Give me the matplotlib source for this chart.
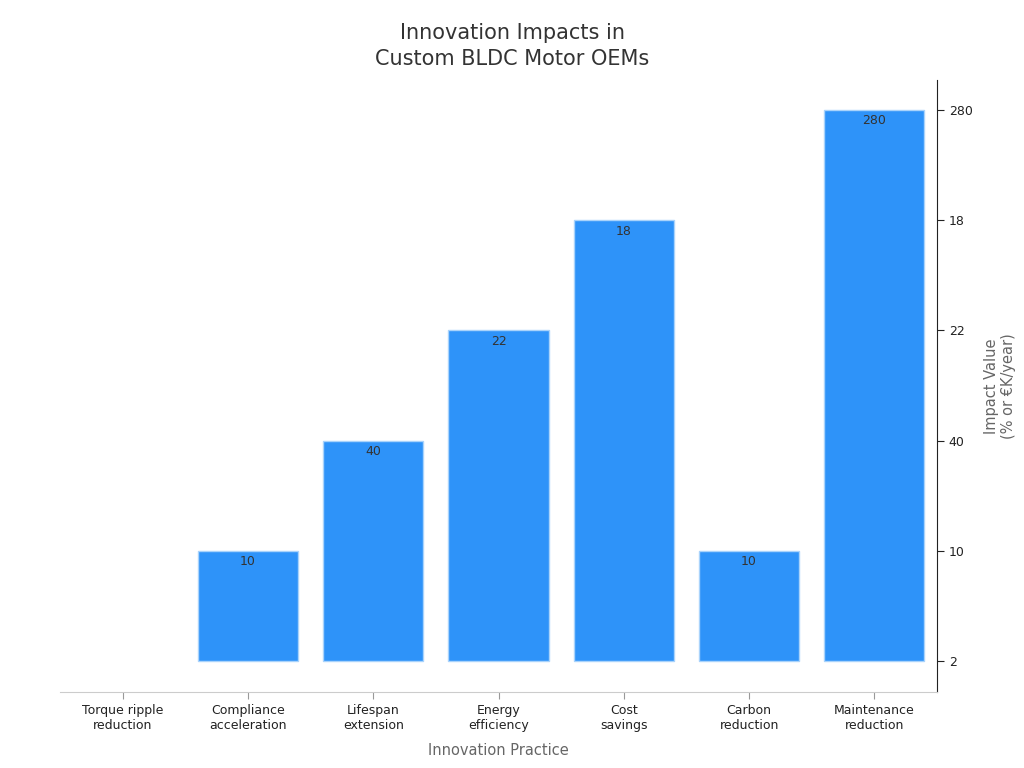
import matplotlib.pyplot as plt

practices = ['Torque ripple\nreduction', 'Compliance\nacceleration', 'Lifespan\nextension',
             'Energy\nefficiency', 'Cost\nsavings', 'Carbon\nreduction', 'Maintenance\nreduction']
values = [2, 10, 40, 22, 18, 10, 280]

# y axis is categorical: levels in order of first appearance
levels = []
for v in values:
    if v not in levels:
        levels.append(v)
ypos = [levels.index(v) for v in values]
base = levels.index(values[0])

fig = plt.figure(figsize=(10.24, 7.68), dpi=100)
ax = fig.add_axes([60 / 1024, 1 - 692 / 768, 877 / 1024, 612 / 768])

x = list(range(len(practices)))
heights = [p - base for p in ypos]
bars = ax.bar(x, heights, bottom=base, width=0.8, color='#2e93f9', edgecolor='#a9d3fb', linewidth=1)
for b, h in zip(bars, heights):
    if h == 0:
        b.set_linewidth(0)

for xi, p, v in zip(x, ypos, values):
    if p != base:
        ax.text(xi, p - 0.04, str(v), ha='center', va='top', fontsize=9, color='#333333')

ax.set_xlim(-0.5, len(practices) - 0.5)
ax.set_ylim(-0.281, len(levels) - 1 + 0.272)
ax.set_xticks(x)
ax.set_xticklabels(practices, fontsize=9, color='#222222')
ax.set_yticks(range(len(levels)))
ax.set_yticklabels([str(l) for l in levels], fontsize=9, color='#222222')

ax.yaxis.tick_right()
ax.yaxis.set_label_position('right')
ax.spines['top'].set_visible(False)
ax.spines['left'].set_visible(False)
ax.spines['bottom'].set_color('#cccccc')
ax.spines['right'].set_color('#222222')
ax.tick_params(axis='x', length=5, color='#999999')
ax.tick_params(axis='y', length=5, color='#222222')

ax.set_xlabel('Innovation Practice', fontsize=10.5, color='#666666', labelpad=8)
ax.set_ylabel('Impact Value\n(% or €K/year)', fontsize=10.5, color='#666666', labelpad=8,
              rotation=90)

fig.text(0.5, 1 - 46 / 768, 'Innovation Impacts in\nCustom BLDC Motor OEMs', ha='center', va='center',
         fontsize=15, color='#333333', linespacing=1.4)

fig.savefig('out.png', dpi=100)
